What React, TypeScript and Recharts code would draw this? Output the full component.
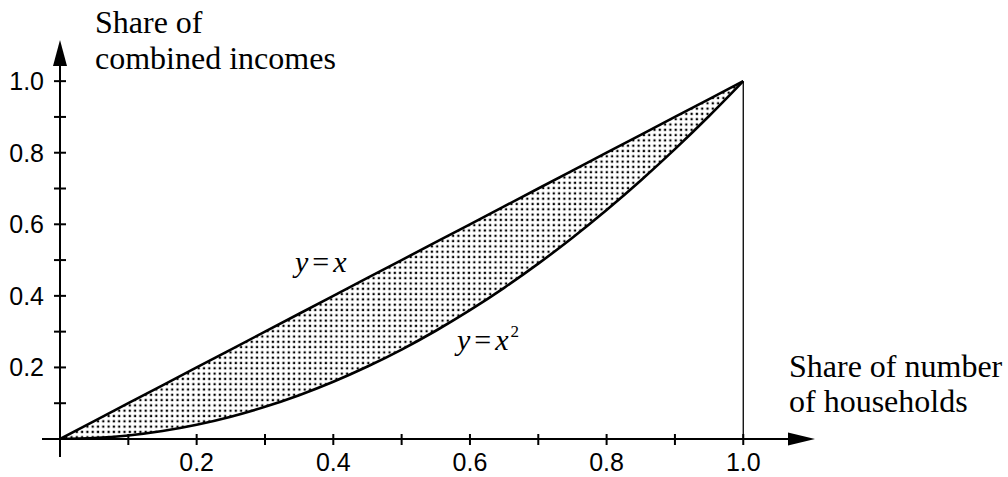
import React from 'react';
import { ComposedChart, Area, Line, XAxis, YAxis, ReferenceLine } from 'recharts';

// share of households (x) sampled every 0.05
const households = [
  0, 0.05, 0.1, 0.15, 0.2, 0.25, 0.3, 0.35, 0.4, 0.45, 0.5,
  0.55, 0.6, 0.65, 0.7, 0.75, 0.8, 0.85, 0.9, 0.95, 1,
];
// line of perfect equality, y = x
const equalShare = [
  0, 0.05, 0.1, 0.15, 0.2, 0.25, 0.3, 0.35, 0.4, 0.45, 0.5,
  0.55, 0.6, 0.65, 0.7, 0.75, 0.8, 0.85, 0.9, 0.95, 1,
];
// Lorenz curve, y = x^2
const lorenzShare = [
  0, 0.0025, 0.01, 0.0225, 0.04, 0.0625, 0.09, 0.1225, 0.16, 0.2025, 0.25,
  0.3025, 0.36, 0.4225, 0.49, 0.5625, 0.64, 0.7225, 0.81, 0.9025, 1,
];
const axisTicks = [0.1, 0.2, 0.3, 0.4, 0.5, 0.6, 0.7, 0.8, 0.9, 1];
const labelledTicks = [0.2, 0.4, 0.6, 0.8, 1];

const data = households.map((x, i) => ({
  x,
  equal: equalShare[i],
  lorenz: lorenzShare[i],
  gap: [lorenzShare[i], equalShare[i]],
}));

const SANS = '"Liberation Sans", Arial, sans-serif';
const SERIF = '"Liberation Serif", "Times New Roman", serif';

const XTick = (props: any) => {
  const { x, y, payload } = props;
  const v = payload.value;
  return (
    <g>
      <line x1={x} x2={x} y1={y - 5} y2={y + 6} stroke="#000" strokeWidth={2} />
      {labelledTicks.includes(v) && (
        <text x={x} y={y + 32} textAnchor="middle" fontFamily={SANS} fontSize={25} fill="#000">
          {v.toFixed(1)}
        </text>
      )}
    </g>
  );
};

const YTick = (props: any) => {
  const { x, y, payload } = props;
  const v = payload.value;
  return (
    <g>
      <line x1={x - 6} x2={x + 6} y1={y} y2={y} stroke="#000" strokeWidth={2} />
      {labelledTicks.includes(v) && (
        <text x={x - 16} y={y + 9} textAnchor="end" fontFamily={SANS} fontSize={25} fill="#000">
          {v.toFixed(1)}
        </text>
      )}
    </g>
  );
};

// horizontal axis with a short stub left of the origin and an arrow head
const HorizontalArrow = (props: any) => {
  const { x1, x2, y1 } = props;
  const left = Math.min(x1, x2);
  const right = Math.max(x1, x2);
  return (
    <g>
      <line x1={left - 18} y1={y1} x2={right - 20} y2={y1} stroke="#000" strokeWidth={2} />
      <polygon points={`${right},${y1} ${right - 27},${y1 - 6.5} ${right - 27},${y1 + 6.5}`} fill="#000" />
    </g>
  );
};

const VerticalArrow = (props: any) => {
  const { x1, y1, y2 } = props;
  const top = Math.min(y1, y2);
  const bottom = Math.max(y1, y2);
  return (
    <g>
      <line x1={x1} y1={bottom + 18} x2={x1} y2={top + 20} stroke="#000" strokeWidth={2} />
      <polygon points={`${x1},${top} ${x1 - 7},${top + 26} ${x1 + 7},${top + 26}`} fill="#000" />
    </g>
  );
};

export default function App() {
  return (
    <div style={{ position: 'absolute', left: 0, top: 0, width: 1008, height: 477, background: '#fff' }}>
      <svg width={0} height={0} style={{ position: 'absolute' }}>
        <defs>
          <pattern id="stipple" width={5.3} height={5.3} patternUnits="userSpaceOnUse">
            <rect x={1.5} y={1.5} width={2.2} height={2.2} fill="#000" />
          </pattern>
        </defs>
      </svg>
      <ComposedChart
        width={1008}
        height={477}
        data={data}
        margin={{ top: 40, right: 193, bottom: 8, left: 0 }}
      >
        <XAxis
          type="number"
          dataKey="x"
          domain={[0, 1.105]}
          allowDataOverflow
          ticks={axisTicks}
          interval={0}
          axisLine={false}
          tickLine={false}
          tickSize={0}
          tickMargin={0}
          height={30}
          tick={<XTick />}
        />
        <YAxis
          type="number"
          domain={[0, 1.115]}
          allowDataOverflow
          ticks={axisTicks}
          interval={0}
          axisLine={false}
          tickLine={false}
          tickSize={0}
          tickMargin={0}
          width={60}
          tick={<YTick />}
        />
        <Area
          type="monotone"
          dataKey="gap"
          stroke="none"
          fill="url(#stipple)"
          fillOpacity={1}
          isAnimationActive={false}
        />
        <Line type="linear" dataKey="equal" stroke="#000" strokeWidth={2.6} dot={false} isAnimationActive={false} />
        <Line type="monotone" dataKey="lorenz" stroke="#000" strokeWidth={2.6} dot={false} isAnimationActive={false} />
        <ReferenceLine segment={[{ x: 1, y: 0 }, { x: 1, y: 1 }]} stroke="#000" strokeWidth={1.3} />
        <ReferenceLine y={0} shape={HorizontalArrow} />
        <ReferenceLine x={0} shape={VerticalArrow} />

        <text fontFamily={SERIF} fontSize={32} fill="#000">
          <tspan x={95} y={33}>Share of</tspan>
          <tspan x={95} y={69}>combined incomes</tspan>
        </text>
        <text fontFamily={SERIF} fontSize={32} fill="#000">
          <tspan x={789} y={377}>Share of number</tspan>
          <tspan x={789} y={412}>of households</tspan>
        </text>
        <text x={295} y={272} fontFamily={SERIF} fontSize={30} fill="#000">
          <tspan fontStyle="italic">y</tspan>
          <tspan dx={4}>=</tspan>
          <tspan dx={4} fontStyle="italic">x</tspan>
        </text>
        <text x={457} y={350} fontFamily={SERIF} fontSize={30} fill="#000">
          <tspan fontStyle="italic">y</tspan>
          <tspan dx={4}>=</tspan>
          <tspan dx={4} fontStyle="italic">x</tspan>
          <tspan dx={2} dy={-13} fontSize={17}>2</tspan>
        </text>
      </ComposedChart>
    </div>
  );
}
